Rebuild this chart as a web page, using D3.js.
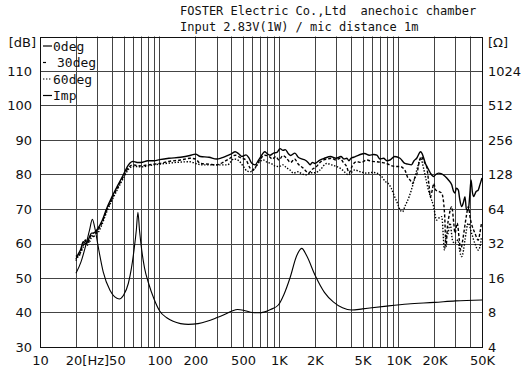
<!DOCTYPE html>
<html>
<head>
<meta charset="utf-8">
<script src="https://cdn.jsdelivr.net/npm/d3@7"></script>
<style>
  body { margin: 0; background: #fff; }
  svg { display: block; }
  .tick-label { font-family: "DejaVu Sans", sans-serif; font-size: 13px; fill: #111; }
  .mono { font-family: "DejaVu Sans Mono", monospace; fill: #111; white-space: pre; }
</style>
</head>
<body>
<div id="chart"></div>
<script>
// tick labels
const dbTicks = [30, 40, 50, 60, 70, 80, 90, 100, 110];
const ohmTicks = [4, 8, 16, 32, 64, 128, 256, 512, 1024];
const freqTicks = [10, 100, 200, 500, 1000, 2000, 5000, 10000, 20000, 50000];
const freqLabels = ["10", "100", "200", "500", "1K", "2K", "5K", "10K", "20K", "50K"];

const titleLines = [
  "FOSTER Electric Co.,Ltd  anechoic chamber",
  "Input 2.83V(1W) / mic distance 1m"
];
const legendNames = ["0deg", "30deg", "60deg", "Imp"];

// [Hz, dB]
const spl0deg = [[20,55.5],[21,57],[22,58.5],[23,60.5],[24,60],[25,60.5],[26,62],[27,63],[28,63],[30,64],[33,66.5],[36,70],[40,73.5],[45,77],[50,80],[55,82.8],[60,83.8],[65,83.5],[70,83.5],[80,84],[90,84],[100,84.3],[120,84.7],[150,85],[180,85.5],[200,85.9],[220,85.2],[260,85],[300,84.5],[330,84.8],[370,85.5],[400,86],[430,86.6],[460,86],[490,85.2],[530,85.7],[560,84.8],[590,83.3],[630,82.8],[670,84],[700,85],[760,86.6],[800,86],[840,85.6],[900,86.2],[960,86.4],[1020,87.5],[1080,87],[1130,87.2],[1200,86],[1250,85.5],[1360,86.2],[1450,85],[1550,84.5],[1650,84.2],[1750,83.5],[1820,82.8],[1900,83.5],[2000,83.2],[2200,84.2],[2400,84.7],[2700,85.2],[3000,84.7],[3300,85.2],[3500,84.5],[3700,84.7],[3850,84],[4000,84.7],[4200,85],[4500,85.4],[4800,85.8],[5200,86.1],[5700,85.6],[6200,85.8],[6600,85.6],[7000,84.5],[7500,84.7],[8000,84],[8500,84.2],[9300,85.2],[10300,84.7],[11300,83.2],[12000,83],[12800,82.8],[13500,84],[14200,84.7],[15300,86.6],[15800,86],[16800,83.2],[17800,81.5],[18500,80.4],[19700,79.4],[20500,80],[21600,80.4],[23000,80.2],[24500,79.5],[26200,78.4],[27900,77],[29000,75],[29700,74.6],[30500,76],[31700,75.5],[32500,73],[33800,70.7],[35000,72],[36000,73.6],[37000,70],[38400,69.7],[39500,74],[40500,78.4],[41500,75],[42500,73.6],[44500,75],[46500,75.5],[48000,77],[50000,79]];

const spl30deg = [[20,56.5],[21,56],[22,58],[23,59.5],[24,61],[25,59.5],[26,61.5],[27,62.5],[28,62],[30,63.5],[33,66],[36,69.5],[40,73],[45,76.5],[50,79.5],[55,82],[60,82.8],[65,82.6],[70,82.5],[80,82.8],[90,83],[100,83.2],[120,83.8],[150,84.2],[180,84.7],[200,84.5],[220,83.2],[260,83],[300,82.8],[340,83.5],[380,84.5],[430,85.6],[480,84.8],[530,84.2],[570,82],[600,81.3],[640,82.3],[700,84.5],[760,85.6],[830,85.2],[880,84.5],[940,85.2],[1000,84.2],[1080,85.5],[1150,84.8],[1250,83.5],[1350,84.5],[1450,83],[1600,81.8],[1700,80.8],[1760,80.4],[1900,81.5],[2060,82.3],[2200,83.5],[2350,84.2],[2550,84.5],[2760,84.7],[3000,84.2],[3240,84.7],[3450,83.5],[3687,82.3],[3850,80.5],[3930,80.8],[4100,82.5],[4470,83.7],[4900,83.5],[5420,84.2],[6000,83.8],[6580,83.7],[7200,83.5],[7960,83.2],[8800,82.5],[9500,82.3],[10300,82.3],[11300,81.3],[12000,79],[12500,78.4],[13100,77.4],[13700,79],[14200,79.9],[15000,84],[15500,85.2],[16500,83.5],[17200,82.3],[18000,77],[18500,73.6],[19300,76],[19700,77.4],[20500,75.5],[22000,75],[23000,74.6],[24300,68.7],[25000,59.1],[25700,64.9],[26500,68],[27900,70.7],[29000,66],[29700,63],[31000,65.9],[32300,61],[33100,58.1],[34500,61],[35500,63.9],[37000,68],[38400,70.7],[40000,67],[41500,64.9],[43600,63],[46500,61],[48000,63],[49500,65.9]];

const spl60deg = [[20,55],[21,57],[22,57.5],[23,59],[24,60.5],[25,61],[26,60.5],[27,62],[28,63],[30,63],[33,65.5],[36,69],[40,72.5],[45,76],[50,79],[55,81.5],[60,82.3],[65,82.3],[70,82.2],[80,82.5],[90,82.8],[100,83],[120,83.3],[150,83.6],[180,83.7],[200,83.2],[230,82.8],[270,82.8],[320,82.8],[370,82.8],[420,84.5],[460,84],[500,82.5],[540,81],[570,80.8],[620,81.5],[680,83.5],[740,84.2],[800,83.5],[860,83.2],[920,82.5],[1000,82.3],[1080,82.8],[1150,82],[1236,81.3],[1320,80.4],[1450,80.8],[1550,80.2],[1706,79.9],[1850,80.5],[2000,80.5],[2200,81.3],[2500,83.2],[2750,82.8],[3040,82.3],[3350,81.5],[3600,80.5],[3800,79.9],[4000,80.5],[4300,81.3],[4800,80.8],[5420,80.4],[6000,80.6],[6580,80.4],[7200,79.5],[7800,77.9],[8200,77.4],[8700,76],[9300,73.5],[9800,71.7],[10300,69.8],[10800,69.2],[11400,71],[12300,73.6],[13300,77.4],[14500,82.3],[15300,84.7],[16300,81.5],[16800,79.4],[17800,75.5],[18500,73.6],[19700,70.7],[20800,66.8],[22000,67.5],[23000,67.8],[24300,58.1],[25000,62],[26000,63],[27000,65.9],[28300,61],[29500,60],[31500,61],[32500,58],[33800,56.2],[35000,58],[36000,61],[38400,65.9],[40900,63],[43600,60],[46500,58.1],[48000,59],[49500,62]];

// [Hz, ohm]
const impedance = [[20,17.6],[22,22],[24,30],[26,42],[27.4,52],[29,42],[30.7,30],[33.8,18.1],[38.5,12.5],[42,11],[46,10.5],[50,11.3],[54.9,14.4],[58,19],[61.2,28],[64,42],[66,60],[68,42],[71,28],[75,19.5],[81,14.4],[90,10.5],[100,8.3],[115,7.2],[130,6.7],[150,6.4],[174,6.3],[210,6.4],[250,6.7],[300,7.2],[350,7.7],[400,8.2],[451,8.5],[520,8.3],[600,8.0],[671,7.95],[760,8.1],[850,8.5],[987,9.3],[1100,11.5],[1236,16],[1406,25],[1549,29],[1706,25],[2000,17],[2400,12],[2846,9.9],[3400,8.8],[4052,8.4],[5000,8.6],[6000,8.8],[7960,9.1],[12000,9.5],[20000,9.8],[30000,10.1],[50000,10.3]];

const W = 521, H = 373;
const plot = { left: 40, right: 482, top: 36.5, bottom: 347 };

const svg = d3.select("#chart").append("svg")
  .attr("width", W)
  .attr("height", H);

svg.append("rect").attr("width", W).attr("height", H).attr("fill", "#fff");

const x = d3.scaleLog().domain([10, 50000]).range([plot.left, plot.right]);
const y = d3.scaleLinear().domain([30, 120]).range([plot.bottom, plot.top]);
const yImp = d3.scaleLog().base(2).domain([4, 2048]).range([plot.bottom, plot.top]);

// grid
const minorFreqs = [];
[10, 100, 1000, 10000].forEach(dec => {
  for (let k = 1; k < 10; k++) {
    const f = dec * k;
    if (f > 10 && f < 50000) minorFreqs.push(f);
  }
});

const grid = svg.append("g").attr("stroke", "#444").attr("stroke-width", 1);
grid.selectAll(".vgrid")
  .data(minorFreqs)
  .enter()
  .append("line")
  .attr("class", "vgrid")
  .attr("x1", d => Math.round(x(d)) + 0.5)
  .attr("x2", d => Math.round(x(d)) + 0.5)
  .attr("y1", plot.top)
  .attr("y2", plot.bottom);

grid.selectAll(".hgrid")
  .data(dbTicks.filter(d => d > 30))
  .enter()
  .append("line")
  .attr("class", "hgrid")
  .attr("x1", plot.left)
  .attr("x2", plot.right)
  .attr("y1", d => Math.round(y(d)) + 0.5)
  .attr("y2", d => Math.round(y(d)) + 0.5);

svg.append("rect")
  .attr("x", plot.left + 0.5)
  .attr("y", Math.round(plot.top) + 0.5)
  .attr("width", plot.right - plot.left)
  .attr("height", Math.round(plot.bottom) - Math.round(plot.top))
  .attr("fill", "none")
  .attr("stroke", "#111")
  .attr("stroke-width", 1);

// axes (labels only)
const leftAxis = svg.append("g")
  .attr("transform", `translate(${plot.left},0)`)
  .call(d3.axisLeft(y).tickValues(dbTicks).tickSize(0).tickPadding(8));
const rightAxis = svg.append("g")
  .attr("transform", `translate(${plot.right},0)`)
  .call(d3.axisRight(yImp).tickValues(ohmTicks).tickSize(0).tickPadding(6).tickFormat(d3.format("d")));
const bottomAxis = svg.append("g")
  .attr("transform", `translate(0,${plot.bottom})`)
  .call(d3.axisBottom(x).tickValues(freqTicks).tickSize(0).tickPadding(9)
    .tickFormat((d, i) => freqLabels[i]));

[leftAxis, rightAxis, bottomAxis].forEach(a => {
  a.select(".domain").remove();
  a.selectAll("text").attr("class", "tick-label").attr("fill", null);
  a.attr("font-family", null).attr("font-size", null);
});

svg.append("text")
  .attr("class", "tick-label")
  .attr("x", (x(20) + x(50)) / 2 - 4)
  .attr("y", plot.bottom + 9)
  .attr("dy", "0.71em")
  .attr("text-anchor", "middle")
  .text("20[Hz]50");

// unit labels sit just under the top edge
svg.append("text")
  .attr("class", "tick-label")
  .attr("x", plot.left - 4)
  .attr("y", y(120) + 6)
  .attr("dy", "0.32em")
  .attr("text-anchor", "end")
  .text("[dB]");

svg.append("text")
  .attr("class", "tick-label")
  .attr("x", plot.right + 6)
  .attr("y", yImp(2048) + 6)
  .attr("dy", "0.32em")
  .text("[Ω]");

// title
svg.selectAll(".title")
  .data(titleLines)
  .enter()
  .append("text")
  .attr("class", "mono")
  .attr("x", 180)
  .attr("y", (d, i) => 15 + i * 16)
  .attr("font-size", 12)
  .attr("xml:space", "preserve")
  .text(d => d);

// curves
const line = d3.line()
  .curve(d3.curveMonotoneX)
  .x(d => x(d[0]))
  .y(d => y(d[1]));

const impLine = d3.line()
  .curve(d3.curveMonotoneX)
  .x(d => x(d[0]))
  .y(d => yImp(d[1]));

const series = [
  { data: spl0deg, dash: null, width: 1.4 },
  { data: spl30deg, dash: "3,2", width: 1.4 },
  { data: spl60deg, dash: "1.4,1.6", width: 1.4 }
];

const curves = svg.append("g").attr("fill", "none").attr("stroke", "#000");

curves.append("path")
  .datum(impedance)
  .attr("d", impLine)
  .attr("stroke-width", 1.1);

series.forEach(s => {
  curves.append("path")
    .datum(s.data)
    .attr("d", line)
    .attr("stroke-width", s.width)
    .attr("stroke-dasharray", s.dash);
});

// legend
const legendDash = [null, "3,2", "1.4,1.6", null];
const legend = svg.append("g").attr("transform", "translate(43,46)");
legendNames.forEach((name, i) => {
  const row = legend.append("g").attr("transform", `translate(0,${i * 16.5})`);
  row.append("line")
    .attr("x1", 0).attr("x2", i === 1 ? 5 : 9)
    .attr("y1", 0).attr("y2", 0)
    .attr("stroke", "#000")
    .attr("stroke-width", 1.2)
    .attr("stroke-dasharray", legendDash[i]);
  row.append("text")
    .attr("class", "mono")
    .attr("x", i === 1 ? 14 : 10)
    .attr("y", 0)
    .attr("dy", "0.35em")
    .attr("font-size", 13)
    .text(name);
});
</script>
</body>
</html>
